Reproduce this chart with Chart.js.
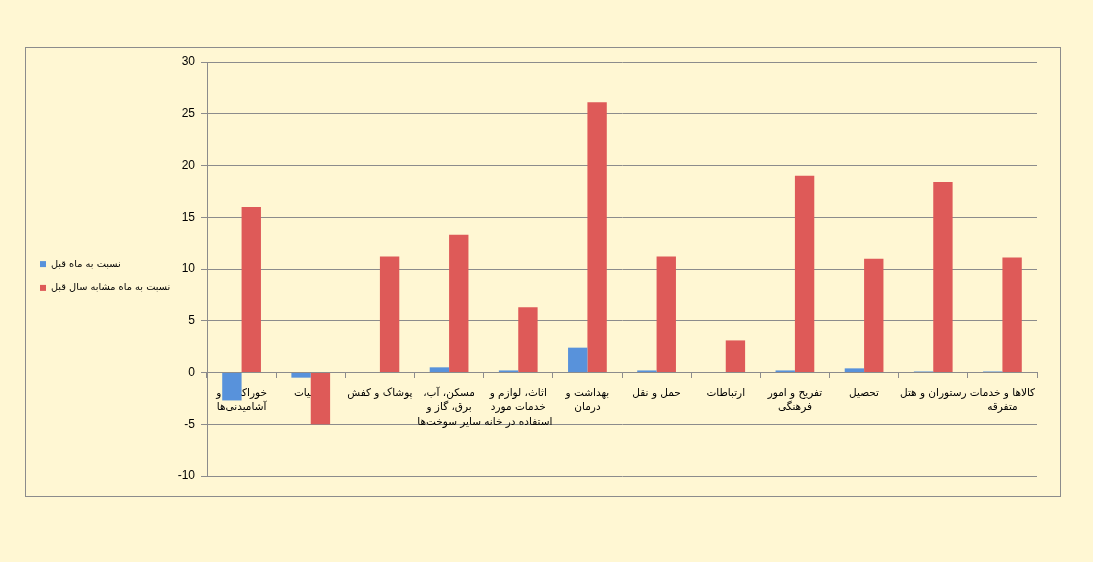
<!DOCTYPE html>
<html>
<head>
<meta charset="utf-8">
<script src="https://cdn.jsdelivr.net/npm/chart.js@4"></script>
<style>
  html, body { margin: 0; padding: 0; background: #fff7d3; }
  #box {
    position: absolute; left: 25px; top: 47px;
    width: 1036px; height: 450px;
    border: 1px solid #8c8c8c; box-sizing: border-box;
  }
  canvas { display: block; }
</style>
</head>
<body>
<div id="box"><canvas id="cpiChart" width="1034" height="448"></canvas></div>
<script>
// categories (goods & services groups)
const categories = [
  ["خوراکی‌ها و", "آشامیدنی‌ها"],
  "دخانیات",
  "پوشاک و کفش",
  ["مسکن، آب،", "برق، گاز و", "سایر سوخت‌ها"],
  ["اثاث، لوازم و", "خدمات مورد", "استفاده در خانه"],
  ["بهداشت و", "درمان"],
  "حمل و نقل",
  "ارتباطات",
  ["تفریح و امور", "فرهنگی"],
  "تحصیل",
  "رستوران و هتل",
  ["کالاها و خدمات", "متفرقه"],
];
const seriesNames = ["نسبت به ماه قبل", "نسبت به ماه مشابه سال قبل"];
const vsPrevMonth = [-2.7, -0.5, 0, 0.5, 0.2, 2.4, 0.2, 0, 0.2, 0.4, 0.1, 0.1];
const vsSameMonthLastYear = [16.0, -5.0, 11.2, 13.3, 6.3, 26.1, 11.2, 3.1, 19.0, 11.0, 18.4, 11.1];
const yTicks = { min: -10, max: 30, step: 5 };

const gridColor = "#8c8c8c";
const legendWidth = 146;

// wrap a label in right-to-left embedding so punctuation lands on the right side
const rtl = (s) => "\u202B" + s + "\u202C";

document.addEventListener("DOMContentLoaded", () => {
  const ctx = document.getElementById("cpiChart").getContext("2d");
  new Chart(ctx, {
    type: "bar",
    data: {
      labels: categories,
      datasets: [
        {
          label: seriesNames[0],
          data: vsPrevMonth,
          backgroundColor: "#5892db",
        },
        {
          label: seriesNames[1],
          data: vsSameMonthLastYear,
          backgroundColor: "#de5a58",
        },
      ],
    },
    options: {
      responsive: false,
      animation: false,
      layout: { padding: { top: 14, right: 23, bottom: 20, left: 0 } },
      datasets: {
        bar: { barPercentage: 1, categoryPercentage: 0.56 },
      },
      plugins: {
        tooltip: { enabled: false },
        legend: {
          position: "left",
          maxWidth: legendWidth,
          title: { display: true, text: "", padding: 1, font: { size: 10 } },
          labels: {
            boxWidth: 6,
            boxHeight: 6,
            color: "#000",
            padding: 14,
            font: { family: "DejaVu Sans", size: 9.8 },
          },
        },
      },
      scales: {
        x: {
          position: { y: 0 },
          z: 1,
          grid: {
            offset: true,
            drawOnChartArea: false,
            tickLength: 5,
            color: gridColor,
          },
          border: { color: gridColor },
          ticks: {
            color: "#000",
            autoSkip: false,
            maxRotation: 0,
            padding: 9,
            font: { family: "DejaVu Sans", size: 10.5, lineHeight: 1.35 },
            callback: function (value) {
              const lbl = this.getLabelForValue(value);
              return Array.isArray(lbl) ? lbl.map(rtl) : rtl(lbl);
            },
          },
        },
        y: {
          min: yTicks.min,
          max: yTicks.max,
          afterFit: (scale) => { scale.width = 181 - legendWidth; },
          grid: { color: gridColor, tickLength: 6 },
          border: { color: gridColor },
          ticks: {
            stepSize: yTicks.step,
            color: "#000",
            padding: 6,
            font: { family: "Liberation Sans", size: 12 },
          },
        },
      },
    },
  });
});
</script>
</body>
</html>
